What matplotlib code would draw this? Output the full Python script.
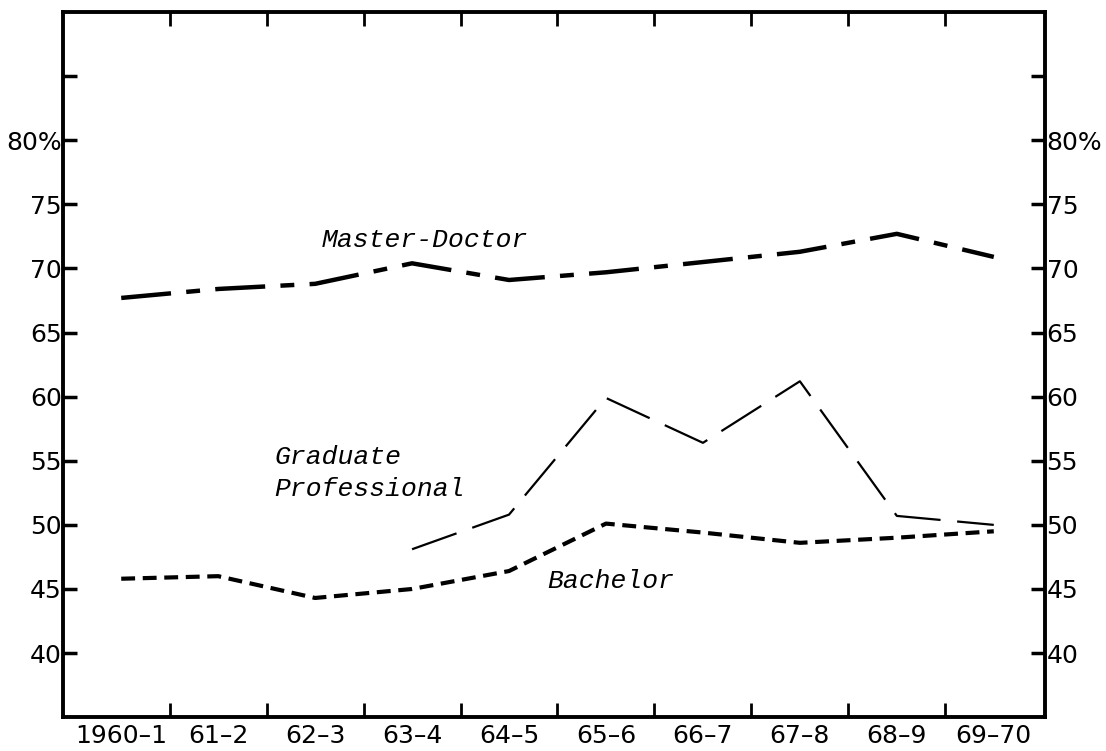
import numpy as np
import matplotlib
matplotlib.use("Agg")
import matplotlib.pyplot as plt

# -----------------------------
# Data (percent)
# -----------------------------
years = ["1960–1", "61–2", "62–3", "63–4", "64–5", "65–6", "66–7", "67–8", "68–9", "69–70"]
master_doctor = [67.7, 68.4, 68.8, 70.4, 69.1, 69.7, 70.5, 71.3, 72.7, 70.9]
grad_prof = [np.nan, np.nan, np.nan, 48.1, 50.8, 59.9, 56.4, 61.2, 50.7, 50.0]
bachelor = [45.8, 46.0, 44.3, 45.0, 46.4, 50.1, 49.4, 48.6, 49.0, 49.5]

y_ticks = [40, 45, 50, 55, 60, 65, 70, 75, 80, 85]
y_labels = ["40", "45", "50", "55", "60", "65", "70", "75", "80%", ""]

plt.rcParams['font.family'] = ['DejaVu Sans']
plt.rcParams['lines.scale_dashes'] = False

fig = plt.figure(figsize=(11.06, 7.51), dpi=100)
ax = fig.add_axes([0.057, 0.045, 0.888, 0.939])

x = np.arange(len(years)) + 0.5

# -----------------------------
# Lines
# -----------------------------
ax.plot(x, master_doctor, color='black', lw=3.2, dash_capstyle='butt',
        dashes=(36, 11, 10, 11))
ax.plot(x, grad_prof, color='black', lw=1.6, dash_capstyle='butt', dashes=(34, 12))
ax.plot(x, bachelor, color='black', lw=3.0, dash_capstyle='butt', dashes=(10, 5.5))

# -----------------------------
# Labels on the lines
# -----------------------------
lab = dict(family='Liberation Mono', style='italic', fontsize=19,
           ha='left', va='baseline')
ax.text(2.57, 71.64, "Master-Doctor", **lab)
ax.text(2.08, 54.77, "Graduate", **lab)
ax.text(2.08, 52.27, "Professional", **lab)
ax.text(4.89, 45.08, "Bachelor", **lab)

# -----------------------------
# Axes
# -----------------------------
ax.set_xlim(-0.1, 10.03)
ax.set_ylim(35, 90)

ax.set_xticks(np.arange(1, 10))
ax.set_xticklabels([])
ax.set_xticks(x, minor=True)
ax.set_xticklabels(years, minor=True)

ax.set_yticks(y_ticks)
ax.set_yticklabels(y_labels)

ax.tick_params(axis='x', which='major', direction='in', length=10, width=2,
               top=True, bottom=True)
ax.tick_params(axis='x', which='minor', length=0, labelsize=18, pad=5)
ax.tick_params(axis='y', direction='in', length=10, width=2.5,
               left=True, right=True, labelright=True, labelsize=18, pad=4)

for s in ax.spines.values():
    s.set_linewidth(2.8)

# right labels sit tight against the frame
for t in ax.yaxis.get_major_ticks():
    t.label2.set_horizontalalignment('left')
    t.set_pad(1)

plt.savefig("out.png", dpi=100)
